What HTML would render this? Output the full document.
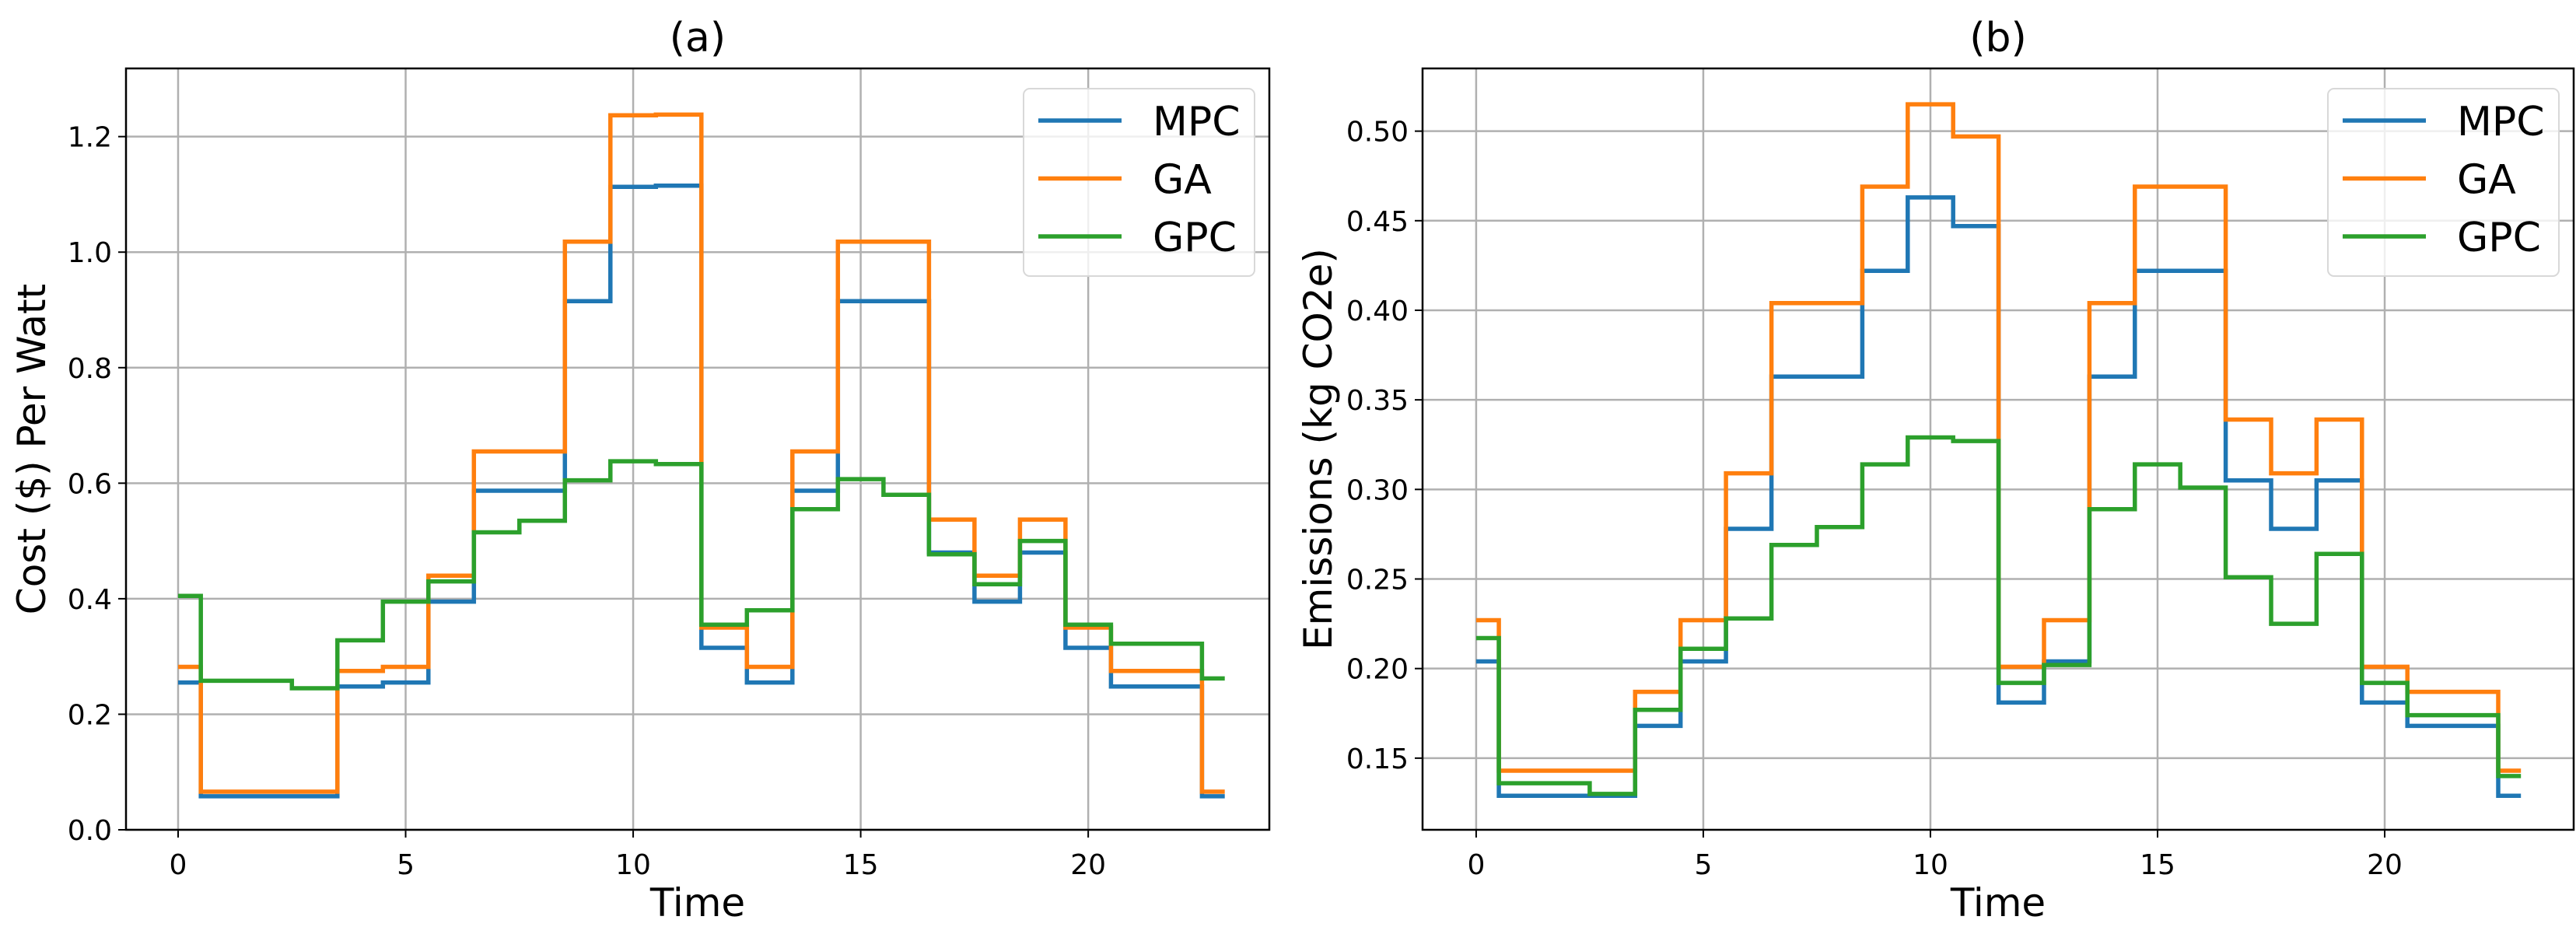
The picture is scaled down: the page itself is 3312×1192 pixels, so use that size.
<!DOCTYPE html>
<html><head><meta charset="utf-8"><style>
html,body{margin:0;padding:0;background:#fff;}
svg{display:block;font-family:"DejaVu Sans","Liberation Sans",sans-serif;}
</style></head><body>
<svg id="fig" width="3312" height="1192" viewBox="0 0 3312 1192" xmlns="http://www.w3.org/2000/svg"></svg>
<script>
const times = [0,1,2,3,4,5,6,7,8,9,10,11,12,13,14,15,16,17,18,19,20,21,22,23];
const seriesNames = ["MPC","GA","GPC"];
const costMPC = [0.255,0.058,0.058,0.058,0.248,0.255,0.395,0.587,0.587,0.915,1.113,1.115,0.315,0.255,0.587,0.915,0.915,0.48,0.395,0.48,0.315,0.248,0.248,0.058];
const costGA  = [0.282,0.066,0.066,0.066,0.275,0.282,0.44,0.655,0.655,1.018,1.237,1.238,0.35,0.282,0.655,1.018,1.018,0.537,0.44,0.537,0.35,0.275,0.275,0.066];
const costGPC = [0.405,0.258,0.258,0.245,0.328,0.395,0.43,0.515,0.535,0.605,0.638,0.633,0.355,0.38,0.555,0.607,0.58,0.477,0.425,0.5,0.355,0.322,0.322,0.262];
const emMPC = [0.204,0.129,0.129,0.129,0.168,0.204,0.278,0.363,0.363,0.422,0.463,0.447,0.181,0.204,0.363,0.422,0.422,0.305,0.278,0.305,0.181,0.168,0.168,0.129];
const emGA  = [0.227,0.143,0.143,0.143,0.187,0.227,0.309,0.404,0.404,0.469,0.515,0.497,0.201,0.227,0.404,0.469,0.469,0.339,0.309,0.339,0.201,0.187,0.187,0.143];
const emGPC = [0.217,0.136,0.136,0.130,0.177,0.211,0.228,0.269,0.279,0.314,0.329,0.327,0.192,0.202,0.289,0.314,0.301,0.251,0.225,0.264,0.192,0.174,0.174,0.140];
const xTicks = [0,5,10,15,20];
const costTicks = [0.0,0.2,0.4,0.6,0.8,1.0,1.2];
const emTicks = [0.15,0.20,0.25,0.30,0.35,0.40,0.45,0.50];
const colors = ["#1f77b4","#ff7f0e","#2ca02c"];

const NS="http://www.w3.org/2000/svg";
const svg=document.getElementById('fig');
function mk(tag,attrs,parent){const e=document.createElementNS(NS,tag);for(const k in attrs)e.setAttribute(k,attrs[k]);(parent||svg).appendChild(e);return e;}

function panel(cfg){
  const g=mk('g',{});
  
  
  const L=cfg.left,R=cfg.right,T=88,B=1067;
  const sx=v=>L+(v-cfg.xmin)/(cfg.xmax-cfg.xmin)*(R-L);
  const sy=v=>B-(v-cfg.ymin)/(cfg.ymax-cfg.ymin)*(B-T);
  xTicks.forEach(t=>{
    const l=mk('line',{x1:sx(t),x2:sx(t),y1:T,y2:B,stroke:'#b0b0b0','stroke-width':2.5},g);
    
    
    const tk=mk('line',{x1:sx(t),x2:sx(t),y1:B,y2:B+10,stroke:'#000','stroke-width':2},g);
    
    
    const tx=mk('text',{x:sx(t),y:B+57,'text-anchor':'middle','font-size':36,fill:'#000'},g);
    tx.textContent=t;
    
    
  });
  cfg.yTicks.forEach(t=>{
    const l=mk('line',{x1:L,x2:R,y1:sy(t),y2:sy(t),stroke:'#b0b0b0','stroke-width':2.5},g);
    
    
    const tk=mk('line',{x1:L-10,x2:L,y1:sy(t),y2:sy(t),stroke:'#000','stroke-width':2},g);
    
    
    const tx=mk('text',{x:L-18,y:sy(t)+13,'text-anchor':'end','font-size':36,fill:'#000'},g);
    tx.textContent=t.toFixed(cfg.dec);
    
    
  });
  cfg.series.forEach((vals,i)=>{
    let d='';
    for(let k=0;k<vals.length;k++){
      const x0=k===0?times[0]:times[k]-0.5;
      const x1=k===vals.length-1?times[k]:times[k]+0.5;
      d+=(k===0?'M':'L')+sx(x0).toFixed(1)+','+sy(vals[k]).toFixed(1)+'L'+sx(x1).toFixed(1)+','+sy(vals[k]).toFixed(1);
    }
    const p=mk('path',{d:d,fill:'none',stroke:colors[i],'stroke-width':5.5,'stroke-linejoin':'miter'},g);
    
    
  });
  const fr=mk('rect',{x:L,y:T,width:R-L,height:B-T,fill:'none',stroke:'#000','stroke-width':2.5},g);
  
  
  const lg=mk('g',{},g);
  
  
  const lx=R-316;
  mk('rect',{x:lx,y:114,width:297,height:241,rx:8,fill:'#fff','fill-opacity':0.8,stroke:'#d8d8d8','stroke-width':2},lg);
  seriesNames.forEach((n,i)=>{
    const y=155+i*74.5;
    const ln=mk('line',{x1:lx+19,x2:lx+126,y1:y,y2:y,stroke:colors[i],'stroke-width':5.5},lg);
    
    
    const t=mk('text',{x:lx+166,y:y+19,'font-size':52,fill:'#000'},lg);
    t.textContent=n;
    
    
  });
  const title=mk('text',{x:(L+R)/2,y:66,'text-anchor':'middle','font-size':52,fill:'#000'},g);
  title.textContent=cfg.title;
  
  
  const xl=mk('text',{x:(L+R)/2,y:1178,'text-anchor':'middle','font-size':50,fill:'#000'},g);
  xl.textContent='Time';
  
  
  const yl=mk('text',{x:0,y:0,'text-anchor':'middle','font-size':50,fill:'#000',transform:`translate(${cfg.ylx},${(T+B)/2}) rotate(-90)`},g);
  yl.textContent=cfg.ylabel;
  
  
}
panel({name:'cost-chart',left:162,right:1632,xmin:-1.145,xmax:23.98,ymin:0,ymax:1.318,yTicks:costTicks,dec:1,series:[costMPC,costGA,costGPC],title:'(a)',ylabel:'Cost ($) Per Watt',ylx:58});
panel({name:'emissions-chart',left:1829,right:3309,xmin:-1.18,xmax:24.16,ymin:0.110,ymax:0.535,yTicks:emTicks,dec:2,series:[emMPC,emGA,emGPC],title:'(b)',ylabel:'Emissions (kg CO2e)',ylx:1712});
</script>
</body></html>
